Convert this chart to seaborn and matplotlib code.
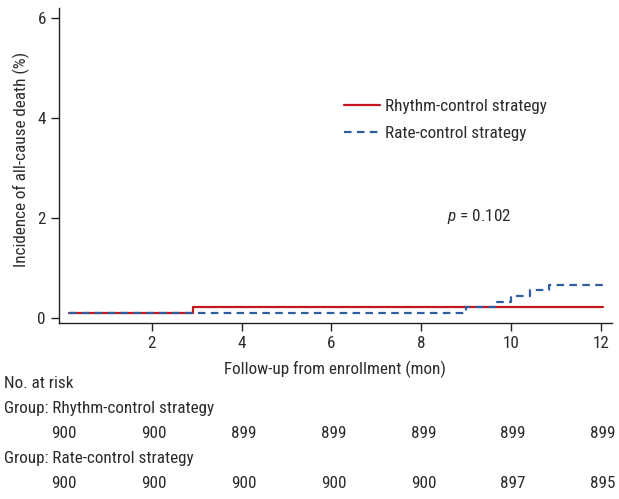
import matplotlib
matplotlib.use("Agg")
import matplotlib.pyplot as plt
import matplotlib.transforms as mtransforms
from matplotlib.lines import Line2D
import seaborn as sns
import pandas as pd

# ---- data ----
groups = ["Rhythm-control strategy", "Rate-control strategy"]
rhythm_time = [0.15, 2.92, 12.05]
rhythm_inc = [0.111, 0.222, 0.222]
rate_time = [0.15, 9.0, 9.67, 10.0, 10.42, 10.85, 12.05]
rate_inc = [0.111, 0.222, 0.333, 0.444, 0.556, 0.667, 0.667]
risk_times = [0, 2, 4, 6, 8, 10, 12]
risk_rhythm = [900, 900, 899, 899, 899, 899, 899]
risk_rate = [900, 900, 900, 900, 900, 897, 895]
x_ticks = [2, 4, 6, 8, 10, 12]
y_ticks = [0, 2, 4, 6]
p_text = "0.102"

colors = {"Rhythm-control strategy": "#c4161c", "Rate-control strategy": "#2f5e9e"}

df = pd.concat([
    pd.DataFrame({"time": rhythm_time, "inc": rhythm_inc, "group": groups[0]}),
    pd.DataFrame({"time": rate_time, "inc": rate_inc, "group": groups[1]}),
])

sns.set_style("ticks")
FONT = ["Roboto Condensed", "DejaVu Sans"]
plt.rcParams["font.family"] = FONT
plt.rcParams["mathtext.fontset"] = "custom"
plt.rcParams["mathtext.it"] = "Roboto Condensed:italic"
plt.rcParams["mathtext.rm"] = "Roboto Condensed"
TC = "#2b2b2b"
FS = 12.3

fig = plt.figure(figsize=(6.19, 4.99), dpi=100)
ax = fig.add_axes([58.5 / 619, 1 - 323.3 / 499, (612 - 58.5) / 619, (323.3 - 8) / 499])

for g, dash in zip(groups, [None, (3.4, 2.4)]):
    sub = df[df["group"] == g]
    sns.lineplot(data=sub, x="time", y="inc", ax=ax, color=colors[g], lw=1.6,
                 drawstyle="steps-post", estimator=None, sort=False, legend=False)
    if dash is not None:
        ax.lines[-1].set_dashes(dash)

ax.set_xlim(-0.08, 12.25)
ax.set_ylim(-0.1, 6.2)
ax.set_xticks(x_ticks)
ax.set_yticks(y_ticks)
ax.tick_params(axis="both", length=6, width=1, color="#222222", labelsize=FS, labelcolor=TC, pad=3)
for s in ["left", "bottom"]:
    ax.spines[s].set_color("#222222")
    ax.spines[s].set_linewidth(1)
sns.despine(ax=ax)
ax.set_xlabel("Follow-up from enrollment (mon)", fontsize=FS, color=TC)
ax.set_ylabel("Incidence of all-cause death (%)", fontsize=FS, color=TC)
ax.yaxis.set_label_coords(-0.052, 0.52)
ax.xaxis.set_label_coords(0.5, -0.12)

handles = [Line2D([], [], color=colors[groups[0]], lw=1.6),
           Line2D([], [], color=colors[groups[1]], lw=1.6, dashes=(3.4, 2.4))]
leg = ax.legend(handles, groups, loc="center left", bbox_to_anchor=(329 / 619, 1 - 120 / 499),
                bbox_transform=fig.transFigure, frameon=False, fontsize=FS,
                handlelength=2.1, handletextpad=0.3, labelspacing=0.74, labelcolor=TC)

fig.text(447 / 619, 1 - 217 / 499, r"$p$ = " + p_text, fontsize=FS, color=TC, va="center", ha="left")

tr = mtransforms.blended_transform_factory(ax.transData, fig.transFigure)
fig.text(4 / 619, 1 - 383 / 499, "No. at risk", fontsize=FS, color=TC, va="center")
fig.text(4 / 619, 1 - 408 / 499, "Group: " + groups[0], fontsize=FS, color=TC, va="center")
fig.text(4 / 619, 1 - 459 / 499, "Group: " + groups[1], fontsize=FS, color=TC, va="center")
for t, a, b in zip(risk_times, risk_rhythm, risk_rate):
    ax.text(t + 0.05, 1 - 434 / 499, str(a), transform=tr, fontsize=FS, color=TC, ha="center", va="center")
    ax.text(t + 0.05, 1 - 483 / 499, str(b), transform=tr, fontsize=FS, color=TC, ha="center", va="center")

fig.savefig("out.png", dpi=100)
